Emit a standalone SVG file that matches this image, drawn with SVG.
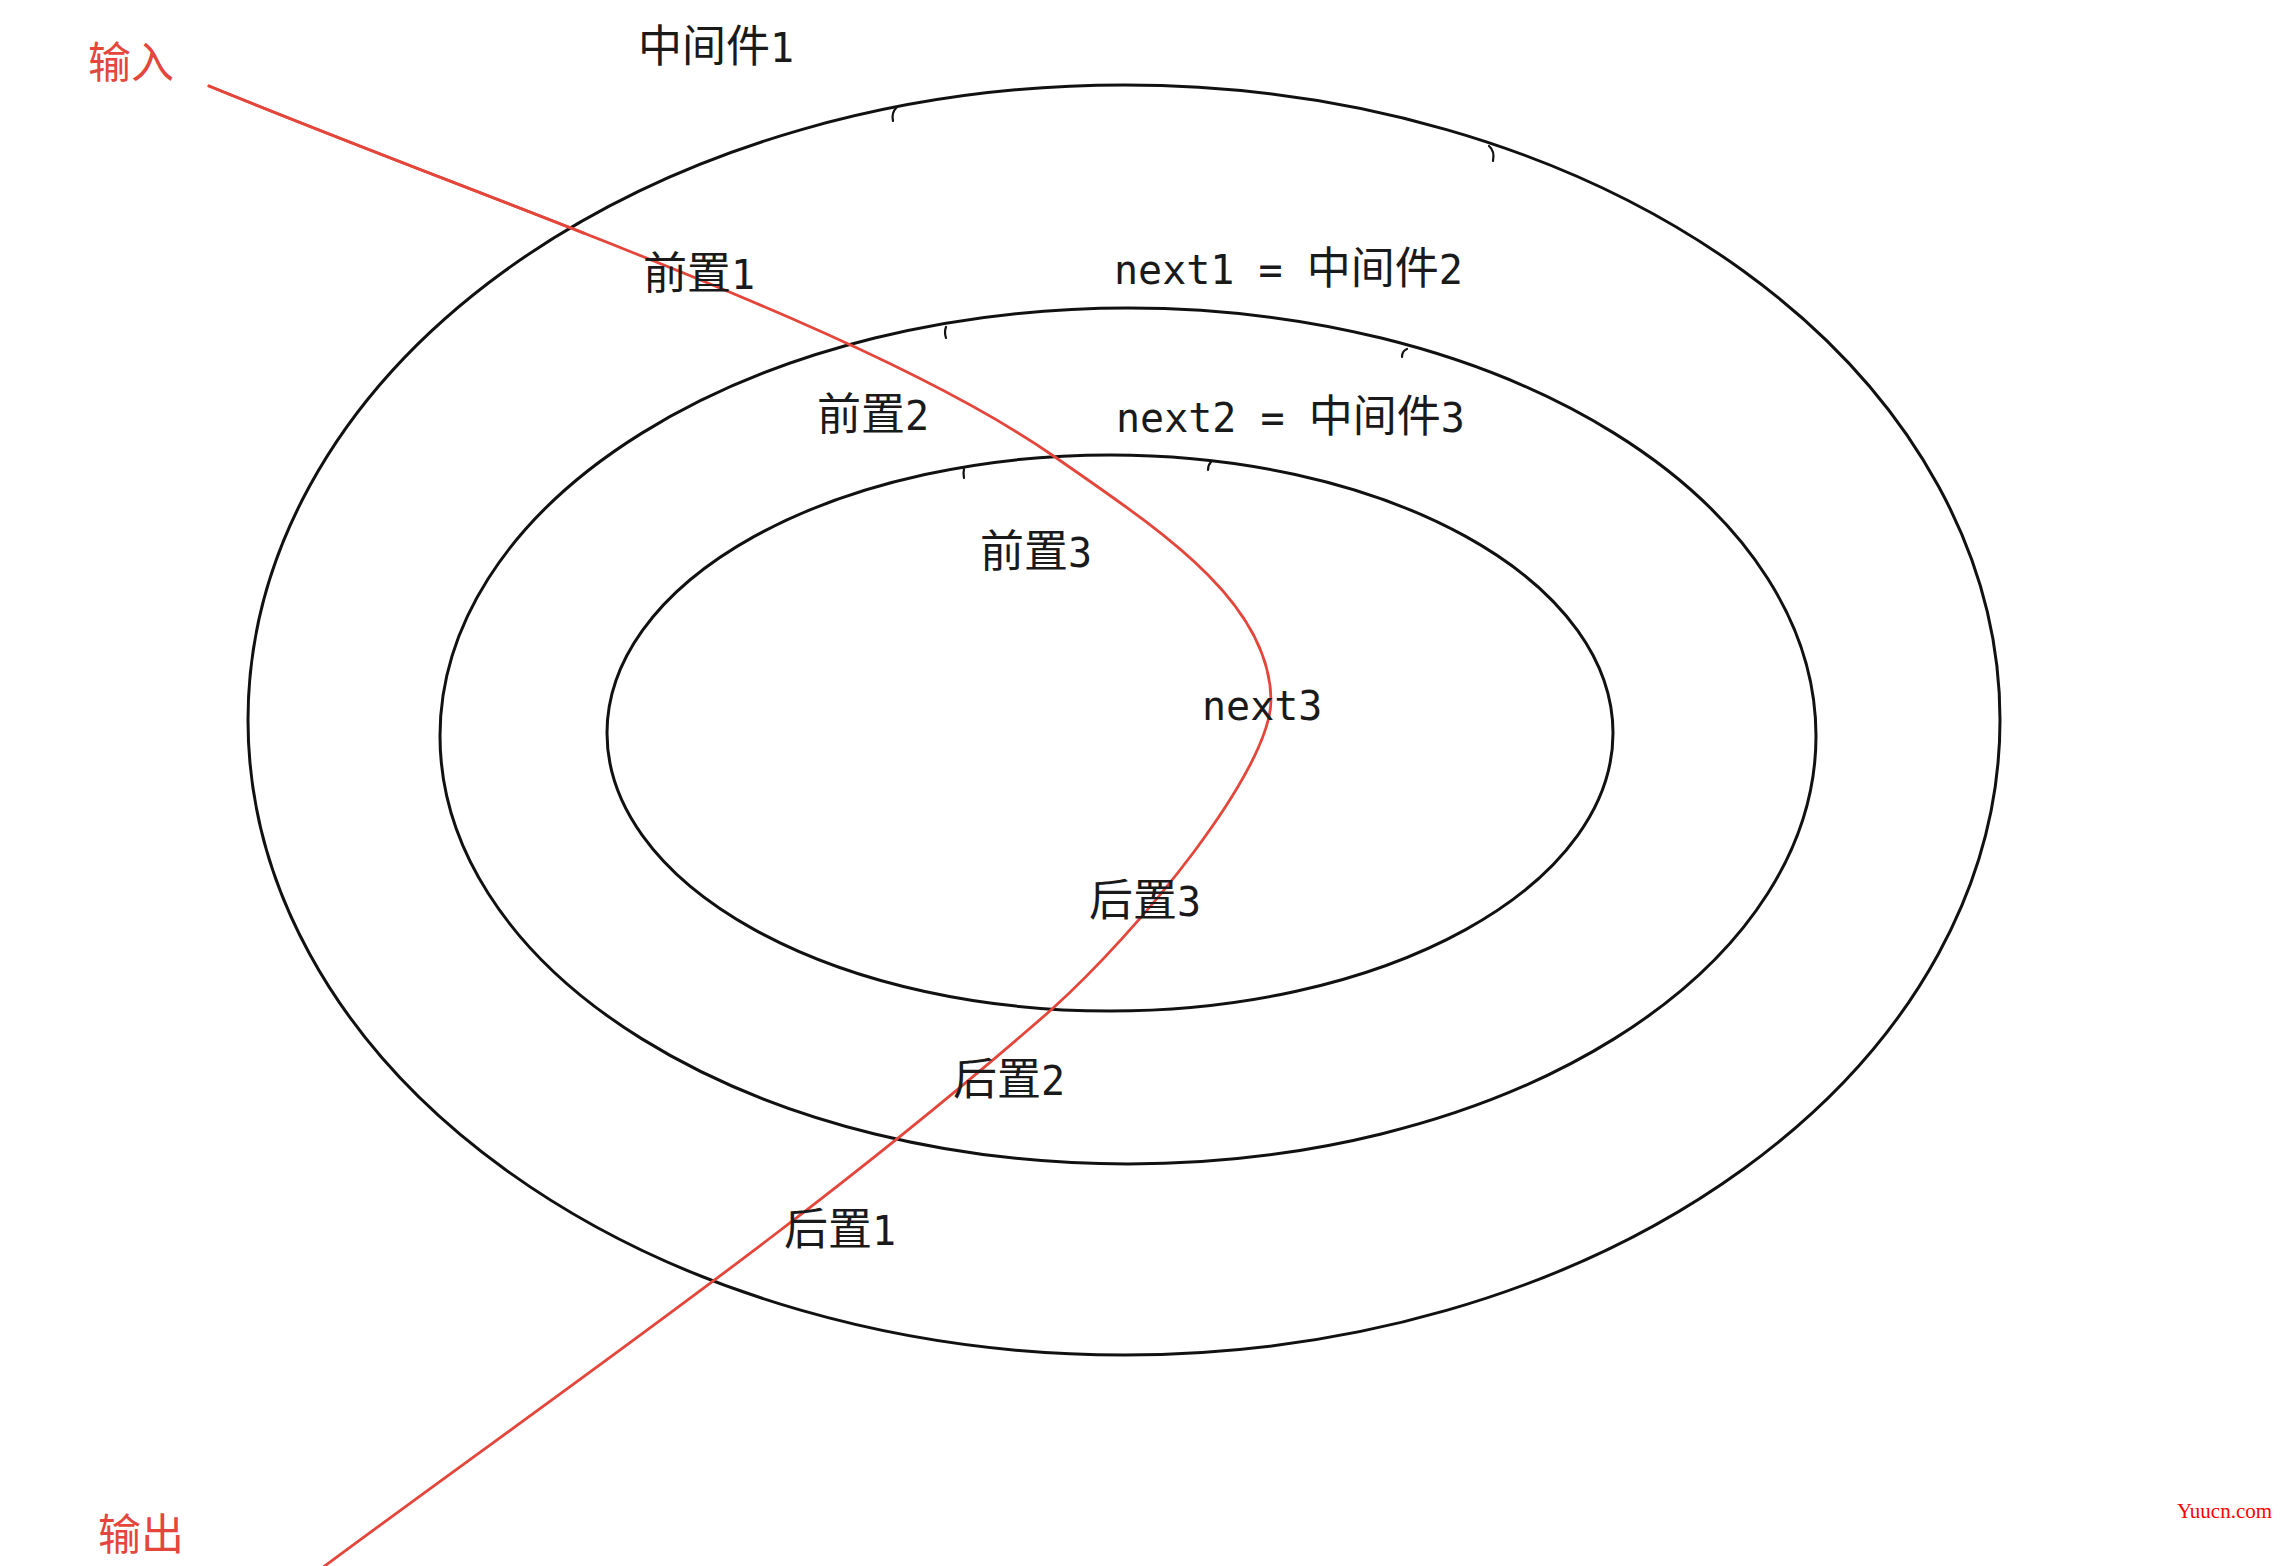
<svg xmlns="http://www.w3.org/2000/svg" width="2288" height="1566" viewBox="0 0 2288 1566">
<style>
.ring{fill:none;stroke:#111;stroke-width:3}
.tick{fill:none;stroke:#111;stroke-width:2.2;stroke-linecap:round}
.lbl{font-family:"DejaVu Sans Mono","Noto Sans CJK SC",monospace;font-size:44px;fill:#1a1a1a}
.m{font-size:40px}
.red{font-family:"Noto Sans CJK SC",sans-serif;font-size:43px;fill:#e4463b}
.flow{fill:none;stroke:#e4463b;stroke-width:2.8;stroke-linecap:round}
</style>
<rect width="2288" height="1566" fill="#ffffff"/>
<g id="layer1">
<ellipse class="ring" cx="1124" cy="720" rx="876" ry="635"/>
<path class="tick" d="M897,107 q-6,6 -4,14"/>
<path class="tick" d="M1489,146 q6,5 4,15"/>
</g>
<g id="layer2">
<ellipse class="ring" cx="1128" cy="736" rx="688" ry="428"/>
<path class="tick" d="M946,327 q-2,5 0,11"/>
<path class="tick" d="M1407,349 q-5,2 -5,8"/>
</g>
<g id="layer3">
<ellipse class="ring" cx="1110" cy="733" rx="503" ry="278"/>
<path class="tick" d="M964,469 q-1,4 0,9"/>
<path class="tick" d="M1211,462 q-3,3 -3,8"/>
</g>
<g id="connectors">
<path class="flow" d="M209,86 C509,209 875,331 1055,457 C1155,527 1270,600 1271,700 C1271,770 1140,930 1051,1010 C811,1220 562,1390 322,1568"/>
<path class="flow" stroke-width="5" d="M209,86 C329,135.2 459.6,184.2 584.5,233.4"/>
</g>
<g id="label-input"><text class="red" x="88" y="78">输入</text></g>
<g id="label-output"><text class="red" x="98" y="1550">输出</text></g>
<g id="label-mw1"><text class="lbl" x="638" y="62">中间件<tspan class="m">1</tspan></text></g>
<g id="label-pre1"><text class="lbl" x="643" y="289">前置<tspan class="m">1</tspan></text></g>
<g id="label-next1"><text class="lbl" x="1114" y="284"><tspan class="m">next1 = </tspan>中间件<tspan class="m">2</tspan></text></g>
<g id="label-pre2"><text class="lbl" x="817" y="430">前置<tspan class="m">2</tspan></text></g>
<g id="label-next2"><text class="lbl" x="1116" y="432"><tspan class="m">next2 = </tspan>中间件<tspan class="m">3</tspan></text></g>
<g id="label-pre3"><text class="lbl" x="980" y="567">前置<tspan class="m">3</tspan></text></g>
<g id="label-next3"><text class="lbl" x="1202" y="720"><tspan class="m">next3</tspan></text></g>
<g id="label-post3"><text class="lbl" x="1089" y="916">后置<tspan class="m">3</tspan></text></g>
<g id="label-post2"><text class="lbl" x="953" y="1095">后置<tspan class="m">2</tspan></text></g>
<g id="label-post1"><text class="lbl" x="784" y="1245">后置<tspan class="m">1</tspan></text></g>
<g id="watermark"><text x="2177" y="1518" font-family="Liberation Serif, serif" font-size="21" fill="#ff0000">Yuucn.com</text></g>
</svg>
